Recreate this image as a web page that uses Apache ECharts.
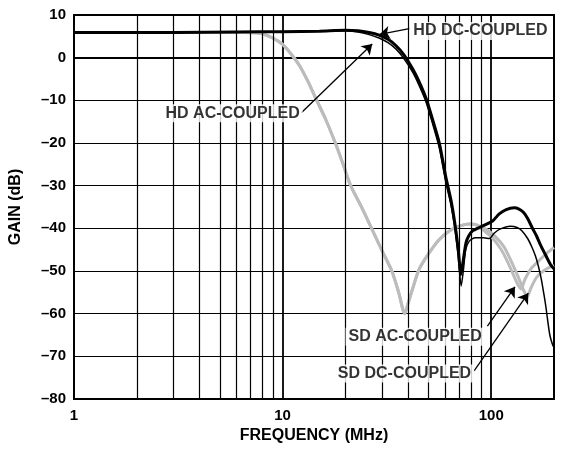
<!DOCTYPE html>
<html><head><meta charset="utf-8">
<script src="https://cdn.jsdelivr.net/npm/echarts@6/dist/echarts.min.js"></script>
<style>html,body{margin:0;padding:0;background:#fff}#c{width:574px;height:453px}</style>
</head><body><div id="c"></div>
<script>
// ---- Data (frequency in MHz, gain in dB) ----
const hdDcFreq = [1,3,6,10,15,20,23,26,29,32,35,38,42,45,48.7,52,56.4,60.6,64.2,67,69.5,71.6,73.2,75.7,78,81.4,90.7,101.5,109.3,118,128.7,136,143,150,157,165,172,182,192,200];
const hdDcGain = [5.9,5.9,6.0,6.1,6.2,6.4,6.3,5.9,5.3,4.3,2.8,0.8,-2.6,-5.5,-9.5,-14,-20,-28,-33.5,-39,-45,-50.8,-48,-43.4,-41.8,-40.6,-39.5,-38.3,-36.6,-35.6,-35.2,-35.5,-36.3,-37.8,-39.8,-41.8,-43.8,-46.2,-48.4,-49.5];

const hdAcFreq = [1,3,6,10,15,20,23,26,29,32,35,38,42,45,48.7,52,56.4,60.6,64.2,67,69.5,71.8,73.5,75.5,78.5,84,92,98,103,110,123.5,133,140.6,150,157,163,169,174,179,183,187,191,196,200];
const hdAcGain = [5.9,5.9,6.0,6.1,6.2,6.3,6.0,5.4,4.6,3.5,2.0,-0.1,-3.4,-6.4,-10.4,-15,-21.2,-29.2,-34.6,-40.2,-46.6,-53.5,-50,-45,-43,-42.2,-42.2,-42.4,-41.2,-40.2,-39.5,-39.8,-40.6,-42.5,-44.5,-46.5,-49.2,-52,-55.5,-58.5,-62,-65,-67,-68];

const sdAcFreq = [1,3,5,6.5,7.8,9,10,11,12.1,13.3,14.5,16,17.9,19.5,21.2,24,26.7,30,33.4,36,38.5,40,42.1,45.1,50.5,56.4,63,70.3,78.5,85,92,101.5,110,117,126,133,139,145,155,170,185,200];
const sdAcGain = [5.9,5.9,5.9,5.9,5.7,4.6,3.1,0.8,-2,-5.8,-9.8,-14.2,-20,-25,-30,-35.2,-40,-45.3,-50,-55,-60,-57.5,-54,-49.6,-45.7,-42.6,-40.6,-39.5,-39,-39.2,-40.5,-42.3,-44.5,-46.8,-50.2,-52.8,-54.2,-52,-49.5,-47.5,-45.8,-44.5];

const sdDcFreq = [1,3,5,6.5,7.8,9,10,11,12.1,13.3,14.5,16,17.9,19.5,21.2,24,26.7,30,33.4,36,38.5,40,42.1,45.1,50.5,56.4,63,70.3,78.5,85,95,105,115,125,135,143,149,155,165,180,200];
const sdDcGain = [5.9,5.9,5.9,5.9,5.7,4.6,3.1,0.8,-2,-5.8,-9.8,-14.2,-20,-25,-30,-35.2,-40,-45.3,-50,-55,-60,-57.5,-54,-49.6,-45.7,-42.6,-40.6,-39.5,-39,-39.2,-40.3,-42,-44.3,-47.8,-51.5,-54.5,-56,-54,-51.5,-49.8,-48.7];

const minorGridFreqs = [2,3,4,5,6,7,8,9,20,30,40,50,60,70,80,90];

const labelNames = ['HD DC-COUPLED','HD AC-COUPLED','SD AC-COUPLED','SD DC-COUPLED'];
const labelFreq = [88.8, 5.76, 43.2, 38.4];
const labelGain = [6.23, -13.05, -65.4, -74.0];

const arrowFromFreq = [40.5, 12.3, 95.9, 82.8];
const arrowFromGain = [6.8, -12.9, -62.9, -73.4];
const arrowToFreq = [29.2, 26.9, 130, 150.6];
const arrowToGain = [5.46, 3.2, -53.7, -55.2];

// ---- Build ----
const FONT = "'Liberation Sans', Arial, Helvetica, sans-serif";
const zip = (a, b) => a.map((v, i) => [v, b[i]]);
const GRAY = '#bcbcbc';

const chart = echarts.init(document.getElementById('c'), null, {renderer: 'canvas'});
chart.setOption({
  animation: false,
  backgroundColor: '#fff',
  grid: {left: 73, top: 15, right: 20, bottom: 54, show: true, borderColor: '#000', borderWidth: 2, backgroundColor: 'transparent'},
  xAxis: {
    type: 'log', logBase: 10, min: 1, max: 200,
    name: 'FREQUENCY (MHz)', nameLocation: 'middle', nameGap: 28,
    nameTextStyle: {fontFamily: FONT, fontWeight: 'bold', fontSize: 16, color: '#000'},
    axisLine: {show: true, lineStyle: {color: '#000', width: 2}},
    axisTick: {show: false},
    axisLabel: {fontFamily: FONT, fontWeight: 'bold', fontSize: 15, color: '#000', margin: 9, showMaxLabel: false,
      formatter: v => String(Math.round(v))},
    splitLine: {show: true, lineStyle: {color: '#000', width: 1.8}},
    minorTick: {show: false}, minorSplitLine: {show: false}
  },
  yAxis: {
    type: 'value', min: -80, max: 10, interval: 10,
    name: 'GAIN (dB)', nameLocation: 'middle', nameGap: 50, nameRotate: 90,
    nameTextStyle: {fontFamily: FONT, fontWeight: 'bold', fontSize: 16, color: '#000'},
    axisLine: {show: true, lineStyle: {color: '#000', width: 2}},
    axisTick: {show: false},
    axisLabel: {fontFamily: FONT, fontWeight: 'bold', fontSize: 15, color: '#000', margin: 8,
      formatter: v => v < 0 ? '\u2013' + Math.abs(v) : String(v)},
    splitLine: {show: true, lineStyle: {color: '#000', width: 1.2}}
  },
  series: [
    {
      name: 'grid', type: 'line', data: [], z: 1, silent: true,
      markLine: {
        silent: true, symbol: ['none', 'none'], animation: false,
        label: {show: false},
        lineStyle: {color: '#000', width: 1.2, type: 'solid'},
        data: minorGridFreqs.map(f => ({xAxis: f}))
      }
    },
    {name: 'SD DC-COUPLED', type: 'line', data: zip(sdDcFreq, sdDcGain), showSymbol: false, smooth: 0.25, z: 3,
      lineStyle: {color: GRAY, width: 3}},
    {name: 'SD AC-COUPLED', type: 'line', data: zip(sdAcFreq, sdAcGain), showSymbol: false, smooth: 0.25, z: 3,
      lineStyle: {color: GRAY, width: 3}},
    {name: 'HD DC-COUPLED', type: 'line', data: zip(hdDcFreq, hdDcGain), showSymbol: false, smooth: 0.25, z: 4,
      lineStyle: {color: '#000', width: 3}},
    {name: 'HD AC-COUPLED', type: 'line', data: zip(hdAcFreq, hdAcGain), showSymbol: false, smooth: 0.25, z: 4,
      lineStyle: {color: '#000', width: 1.5}},
    {
      name: 'labels', type: 'scatter', z: 6, symbolSize: 0, silent: true,
      data: labelNames.map((n, i) => ({name: n, value: [labelFreq[i], labelGain[i]]})),
      label: {show: true, position: 'inside', formatter: '{b}', fontFamily: FONT, fontWeight: 'bold', fontSize: 16,
        color: '#000', backgroundColor: '#fff', padding: [1, 3]}
    },
    {
      name: 'arrows', type: 'line', data: [], z: 7, silent: true,
      markLine: {
        silent: true, symbol: ['none', 'arrow'], symbolSize: 10, animation: false,
        label: {show: false},
        itemStyle: {color: '#000'},
        lineStyle: {color: '#000', width: 1.3, type: 'solid'},
        data: arrowFromFreq.map((f, i) => [
          {coord: [f, arrowFromGain[i]]},
          {coord: [arrowToFreq[i], arrowToGain[i]]}
        ])
      }
    }
  ]
});
</script></body></html>
